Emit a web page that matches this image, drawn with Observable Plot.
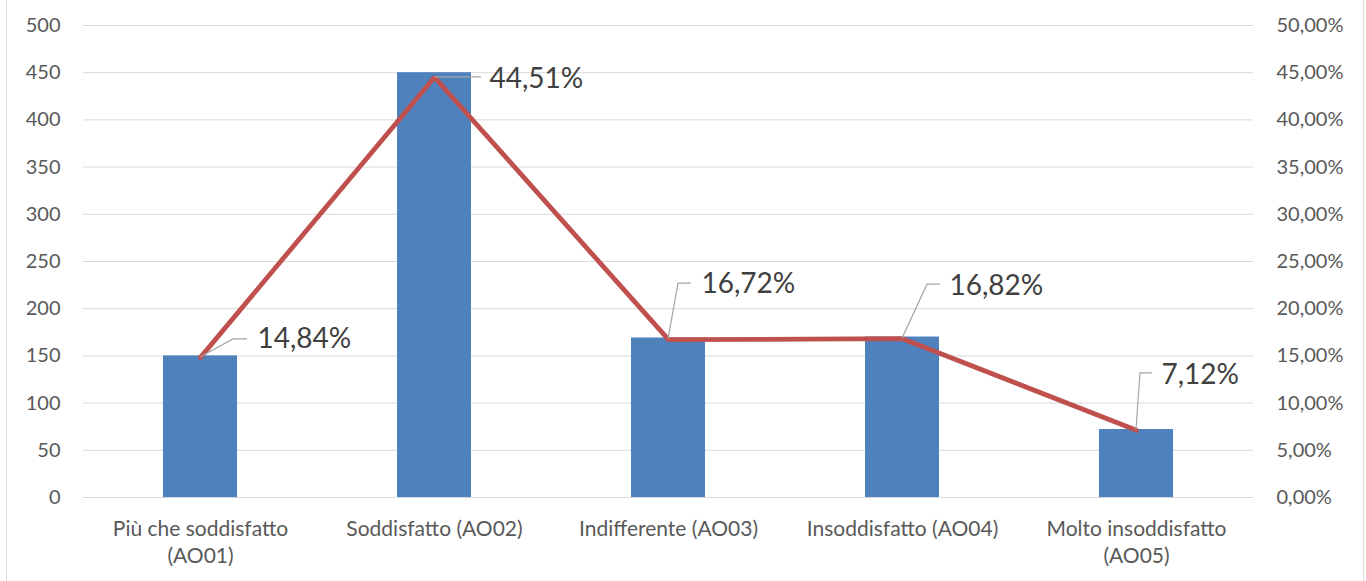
<!DOCTYPE html>
<html>
<head>
<meta charset="utf-8">
<script src="https://cdn.jsdelivr.net/npm/d3@7"></script>
<script src="https://cdn.jsdelivr.net/npm/@observablehq/plot@0.6"></script>
<style>
  body { margin: 0; background: #fff; }
  #chart { position: relative; width: 1366px; height: 581px; }
  #chart svg { position: absolute; left: 0; top: 0; }
  .edge { position: absolute; top: 0; bottom: 0; width: 1px; background: #d9d9d9; }
</style>
</head>
<body>
<div id="chart">
  <div class="edge" style="left:6px"></div>
  <div class="edge" style="left:1363px"></div>
</div>
<script>
// Survey answers: number of respondents and share of the total
const categories = [
  "Più che soddisfatto (AO01)",
  "Soddisfatto (AO02)",
  "Indifferente (AO03)",
  "Insoddisfatto (AO04)",
  "Molto insoddisfatto (AO05)"
];
const counts = [150, 450, 169, 170, 72];
const shares = [14.84, 44.51, 16.72, 16.82, 7.12];   // percent
const countTicks = [0, 50, 100, 150, 200, 250, 300, 350, 400, 450, 500];
const shareTicks = [0, 5, 10, 15, 20, 25, 30, 35, 40, 45, 50];   // percent

// Right axis runs 0–50% against the left axis 0–500
const SHARE_TO_COUNT = 10;

const data = categories.map((cat, i) => ({cat, count: counts[i], share: shares[i]}));

const fmtPct = v => v.toFixed(2).replace(".", ",") + "%";
const wrapLabel = s => s.length > 22 ? s.replace(" (", "\n(") : s;

// Callout placement for each percentage label, in pixels from its point
const callouts = [
  {bend: [33, -18], end: [47, -18], text: [57, -18]},
  {bend: [1, 0],    end: [47, 0],   text: [55, 2]},
  {bend: [10, -56], end: [23, -56], text: [33, -56]},
  {bend: [25, -54], end: [38, -54], text: [47, -53]},
  {bend: [4, -57],  end: [16, -57], text: [25, -55]}
];

const font = "Lato, 'Open Sans', sans-serif";
const tickColor = "#595959";

const plot = Plot.plot({
  width: 1366,
  height: 581,
  marginLeft: 83,
  marginRight: 113,
  marginTop: 25,
  marginBottom: 84,
  style: {fontFamily: font, fontSize: "20px", background: "transparent"},
  x: {domain: categories, paddingInner: 0.684, paddingOuter: 0.342, label: null},
  y: {domain: [0, 500], label: null},
  marks: [
    Plot.gridY(countTicks, {stroke: "#d9d9d9", strokeOpacity: 1, strokeWidth: 1}),
    Plot.axisY({ticks: countTicks, tickSize: 0, tickPadding: 23, color: tickColor, label: null}),
    Plot.axisY({
      anchor: "right",
      ticks: shareTicks.map(s => s * SHARE_TO_COUNT),
      tickFormat: v => fmtPct(v / SHARE_TO_COUNT),
      tickSize: 0, tickPadding: 23, color: tickColor, label: null
    }),
    Plot.axisX({
      tickSize: 0, tickPadding: 19, tickFormat: wrapLabel, color: tickColor,
      fontSize: 21, lineHeight: 1.3, label: null
    }),
    Plot.barY(data, {x: "cat", y: "count", fill: "#4F81BD"}),
    Plot.line(data, {
      x: "cat", y: d => d.share * SHARE_TO_COUNT,
      stroke: "#C0504D", strokeWidth: 4.8, strokeLinejoin: "miter"
    }),
    ...data.map((d, i) => Plot.text([d], {
      x: "cat", y: v => v.share * SHARE_TO_COUNT,
      text: v => fmtPct(v.share),
      dx: callouts[i].text[0], dy: callouts[i].text[1],
      textAnchor: "start", lineAnchor: "middle",
      fontSize: 28, fill: "#404040"
    }))
  ]
});

// Leader lines from each point of the line to its percentage label
const xs = plot.scale("x");
const ys = plot.scale("y");
const bw = xs.bandwidth ?? 0;
const leaders = d3.select(plot).append("g")
  .attr("fill", "none")
  .attr("stroke", "#a6a6a6")
  .attr("stroke-width", 1.2);
data.forEach((d, i) => {
  const px = xs.apply(d.cat) + bw / 2;
  const py = ys.apply(d.share * SHARE_TO_COUNT);
  const c = callouts[i];
  leaders.append("path")
    .attr("d", `M${px},${py}L${px + c.bend[0]},${py + c.bend[1]}L${px + c.end[0]},${py + c.end[1]}`);
});

document.getElementById("chart").appendChild(plot);
</script>
</body>
</html>
